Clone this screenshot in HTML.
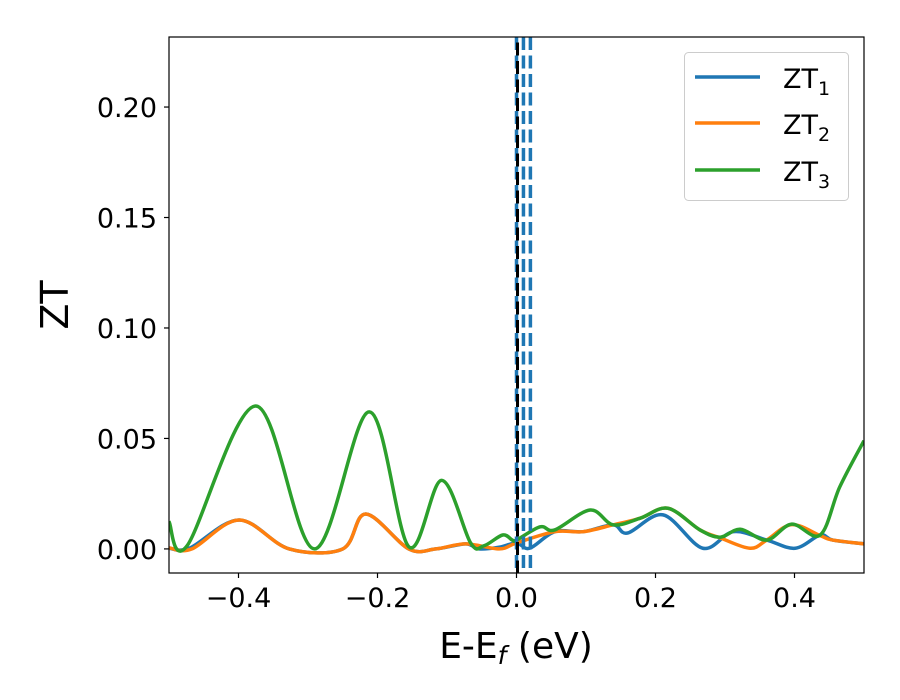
<!DOCTYPE html>
<html><head><meta charset="utf-8"><style>
html,body{margin:0;padding:0;background:#fff;}
svg{display:block;font-family:"DejaVu Sans","Liberation Sans",sans-serif;}
</style></head><body>
<svg id="chart" width="900" height="700" viewBox="0 0 900 700" xmlns="http://www.w3.org/2000/svg"></svg>
<script>
const xTicks=[-0.4,-0.2,0.0,0.2,0.4];
const xTickLabels=["\u22120.4","\u22120.2","0.0","0.2","0.4"];
const yTicks=[0,0.05,0.10,0.15,0.20];
const yTickLabels=["0.00","0.05","0.10","0.15","0.20"];
const vLinesBlue=[0,0.01,0.02];
const zt1X=[-0.5,-0.47,-0.399,-0.327,-0.25,-0.217,-0.155,-0.116,-0.073,-0.054,-0.024,0,0.019,0.055,0.096,0.139,0.160,0.211,0.268,0.312,0.36,0.401,0.437,0.455,0.5];
const zt1Y=[0.0003,0.0004,0.0131,0,0,0.0158,0,0,0.0023,0,0.0008,0.0027,0.0003,0.0078,0.0078,0.0109,0.0072,0.0154,0.0003,0.0078,0.004,0.0003,0.0063,0.004,0.0023];
const zt2X=[-0.5,-0.467,-0.399,-0.327,-0.25,-0.217,-0.155,-0.116,-0.073,-0.025,0,0.055,0.096,0.139,0.178,0.218,0.264,0.293,0.336,0.36,0.396,0.437,0.455,0.5];
const zt2Y=[0.0005,0,0.0131,0,0,0.0158,0,0,0.0023,0,0.0027,0.0078,0.0078,0.0109,0.0139,0.0184,0.0086,0.005,0.0003,0.004,0.011,0.006,0.004,0.0023];
const zt3X=[-0.5,-0.474,-0.375,-0.291,-0.212,-0.155,-0.108,-0.066,-0.047,-0.020,-0.006,0,0.034,0.055,0.106,0.139,0.178,0.218,0.264,0.293,0.322,0.360,0.396,0.437,0.465,0.5];
const zt3Y=[0.0124,0.0014,0.0647,0,0.062,0.001,0.031,0.0027,0.0014,0.0063,0.004,0.004,0.010,0.0086,0.0176,0.0109,0.0139,0.0184,0.0086,0.0053,0.0089,0.004,0.0112,0.0063,0.028,0.049];

const L=169,R=864,T=37,B=573;
const X0=-0.5,X1=0.5,Y0=-0.0109,Y1=0.2317;
const sx=v=>L+(v-X0)/(X1-X0)*(R-L);
const sy=v=>B-(v-Y0)/(Y1-Y0)*(B-T);
const NS="http://www.w3.org/2000/svg";
const svg=document.getElementById('chart');
function mk(tag,attrs,parent){const e=document.createElementNS(NS,tag);for(const k in attrs)e.setAttribute(k,attrs[k]);(parent||svg).appendChild(e);return e;}
function smooth(xs,ys){
  const p=xs.map((x,i)=>[sx(x),sy(ys[i])]);
  let d="M"+p[0][0]+","+p[0][1];
  for(let i=0;i<p.length-1;i++){
    const p0=p[i-1]||p[i],p1=p[i],p2=p[i+1],p3=p[i+2]||p[i+1];
    const c1=[p1[0]+(p2[0]-p0[0])/6,p1[1]+(p2[1]-p0[1])/6];
    const c2=[p2[0]-(p3[0]-p1[0])/6,p2[1]-(p3[1]-p1[1])/6];
    d+=" C"+c1[0]+","+c1[1]+" "+c2[0]+","+c2[1]+" "+p2[0]+","+p2[1];
  }
  return d;
}
mk('defs',{}).innerHTML='<clipPath id="clip"><rect x="'+L+'" y="'+T+'" width="'+(R-L)+'" height="'+(B-T)+'"/></clipPath>';
const plot=mk('g',{'clip-path':'url(#clip)'});


const colors=["#1f77b4","#ff7f0e","#2ca02c"];
const series=[[zt1X,zt1Y],[zt2X,zt2Y],[zt3X,zt3Y]];
series.forEach((s,i)=>{
  const p=mk('path',{d:smooth(s[0],s[1]),fill:'none',stroke:colors[i],'stroke-width':3.5,'stroke-linejoin':'round'},plot);
  
  
});
vLinesBlue.forEach((v,i)=>{
  const ln=mk('line',{x1:sx(v),x2:sx(v),y1:T,y2:B,stroke:'#1f77b4','stroke-width':3.5,'stroke-dasharray':'13,5.5'},plot);
  
  
});
const fl=mk('line',{x1:sx(0)+1,x2:sx(0)+1,y1:T,y2:B,stroke:'#000','stroke-width':3,'stroke-dasharray':'13,5.5','stroke-dashoffset':'13'},plot);


const frame=mk('rect',{x:L,y:T,width:R-L,height:B-T,fill:'none',stroke:'#000','stroke-width':1.2});


xTicks.forEach((v,i)=>{
  const t=mk('line',{x1:sx(v),x2:sx(v),y1:B,y2:B+5,stroke:'#000','stroke-width':1.2});
  
  
  const tx=mk('text',{x:sx(v),y:B+34,'font-size':27,'text-anchor':'middle',fill:'#000'});
  tx.textContent=xTickLabels[i];
  
  
});
yTicks.forEach((v,i)=>{
  const t=mk('line',{x1:L-5,x2:L,y1:sy(v),y2:sy(v),stroke:'#000','stroke-width':1.2});
  
  
  const tx=mk('text',{x:L-12,y:sy(v)+10,'font-size':27,'text-anchor':'end',fill:'#000'});
  tx.textContent=yTickLabels[i];
  
  
});
</script>
<svg style="position:absolute;left:0;top:0" width="900" height="700">
<text x="516" y="658" font-size="36" text-anchor="middle" font-family="DejaVu Sans, Liberation Sans, sans-serif">E-E<tspan font-style="italic" font-size="25" dy="6">f</tspan><tspan dy="-6"> (eV)</tspan></text>
<text transform="translate(68,305) rotate(-90)" font-size="38" text-anchor="middle" font-family="DejaVu Sans, Liberation Sans, sans-serif">ZT</text>
<g font-family="DejaVu Sans, Liberation Sans, sans-serif">
<rect x="684.5" y="52.5" width="164" height="148" rx="4" fill="#fff" fill-opacity="0.8" stroke="#ccc"/>
<line x1="695" x2="760" y1="77" y2="77" stroke="#1f77b4" stroke-width="3.5"/>
<line x1="695" x2="760" y1="123" y2="123" stroke="#ff7f0e" stroke-width="3.5"/>
<line x1="695" x2="760" y1="170" y2="170" stroke="#2ca02c" stroke-width="3.5"/>
<text x="783" y="88" font-size="27">ZT<tspan font-size="19" dy="7">1</tspan></text>
<text x="783" y="134" font-size="27">ZT<tspan font-size="19" dy="7">2</tspan></text>
<text x="783" y="181" font-size="27">ZT<tspan font-size="19" dy="7">3</tspan></text>
</g>
</svg>
</body></html>
